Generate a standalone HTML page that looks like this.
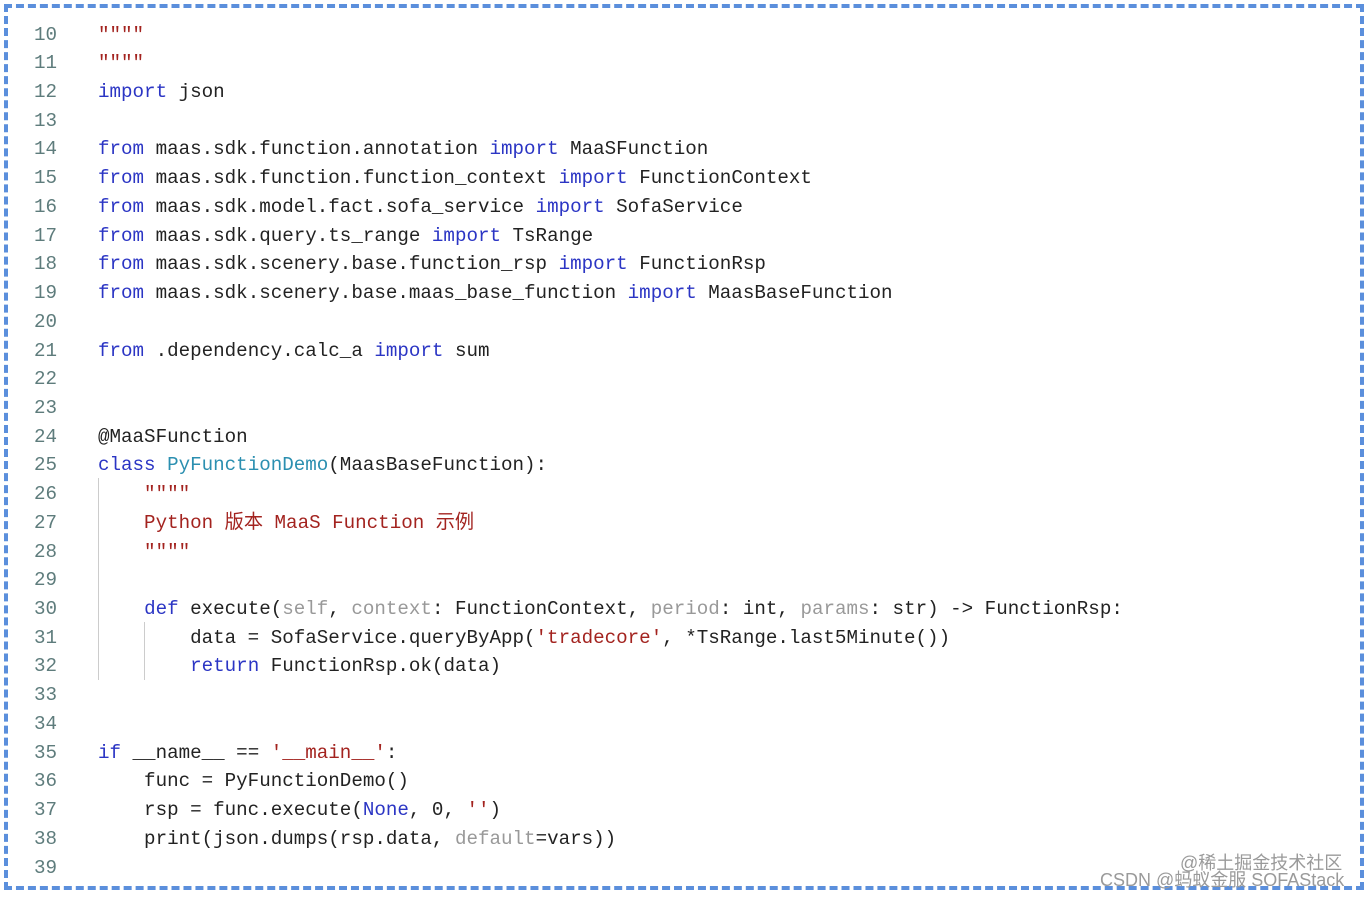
<!DOCTYPE html>
<html><head><meta charset="utf-8"><style>
html,body{margin:0;padding:0;background:#fff;width:1364px;height:896px;overflow:hidden}
.frame{position:absolute;left:4px;top:4px;width:1352px;height:878px;border:4px dashed #5b8fdc;box-sizing:content-box}
.code{position:absolute;left:0;top:20.5px;font-family:"Liberation Mono","Noto Sans CJK SC",monospace;font-size:19.2px;line-height:28.72px;color:#222;white-space:pre}
.ln{position:absolute;left:0;width:57px;text-align:right;color:#5e7c7c}
.tx{position:absolute;left:98px}
.k{color:#2b35c4}.s{color:#a3231f}.c{color:#2b8fb0}.g{color:#999}
.guide{position:absolute;width:1px;background:#ccc}
.wm{position:absolute;font-family:"Liberation Sans","Noto Sans CJK SC",sans-serif;font-size:18px;color:#9a9a9a;white-space:nowrap}
</style></head><body>
<div class="frame"></div>
<div class="guide" style="left:98px;top:478px;height:202px"></div>
<div class="guide" style="left:144px;top:622px;height:58px"></div>
<div class="code">
<div class="ln" style="top:0">10</div><div class="tx s" style="top:0">""""</div>
<div class="ln" style="top:28.72px">11</div><div class="tx s" style="top:28.72px">""""</div>
<div class="ln" style="top:57.45px">12</div><div class="tx" style="top:57.45px"><span class="k">import</span> json</div>
<div class="ln" style="top:86.17px">13</div>
<div class="ln" style="top:114.9px">14</div><div class="tx" style="top:114.9px"><span class="k">from</span> maas.sdk.function.annotation <span class="k">import</span> MaaSFunction</div>
<div class="ln" style="top:143.6px">15</div><div class="tx" style="top:143.6px"><span class="k">from</span> maas.sdk.function.function_context <span class="k">import</span> FunctionContext</div>
<div class="ln" style="top:172.3px">16</div><div class="tx" style="top:172.3px"><span class="k">from</span> maas.sdk.model.fact.sofa_service <span class="k">import</span> SofaService</div>
<div class="ln" style="top:201.1px">17</div><div class="tx" style="top:201.1px"><span class="k">from</span> maas.sdk.query.ts_range <span class="k">import</span> TsRange</div>
<div class="ln" style="top:229.8px">18</div><div class="tx" style="top:229.8px"><span class="k">from</span> maas.sdk.scenery.base.function_rsp <span class="k">import</span> FunctionRsp</div>
<div class="ln" style="top:258.5px">19</div><div class="tx" style="top:258.5px"><span class="k">from</span> maas.sdk.scenery.base.maas_base_function <span class="k">import</span> MaasBaseFunction</div>
<div class="ln" style="top:287.2px">20</div>
<div class="ln" style="top:316px">21</div><div class="tx" style="top:316px"><span class="k">from</span> .dependency.calc_a <span class="k">import</span> sum</div>
<div class="ln" style="top:344.7px">22</div>
<div class="ln" style="top:373.4px">23</div>
<div class="ln" style="top:402.1px">24</div><div class="tx" style="top:402.1px">@MaaSFunction</div>
<div class="ln" style="top:430.9px">25</div><div class="tx" style="top:430.9px"><span class="k">class</span> <span class="c">PyFunctionDemo</span>(MaasBaseFunction):</div>
<div class="ln" style="top:459.6px">26</div><div class="tx s" style="top:459.6px">    """"</div>
<div class="ln" style="top:488.3px">27</div><div class="tx s" style="top:488.3px">    Python 版本 MaaS Function 示例</div>
<div class="ln" style="top:517px">28</div><div class="tx s" style="top:517px">    """"</div>
<div class="ln" style="top:545.8px">29</div>
<div class="ln" style="top:574.5px">30</div><div class="tx" style="top:574.5px">    <span class="k">def</span> execute(<span class="g">self</span>, <span class="g">context</span>: FunctionContext, <span class="g">period</span>: int, <span class="g">params</span>: str) -&gt; FunctionRsp:</div>
<div class="ln" style="top:603.2px">31</div><div class="tx" style="top:603.2px">        data = SofaService.queryByApp(<span class="s">'tradecore'</span>, *TsRange.last5Minute())</div>
<div class="ln" style="top:631.9px">32</div><div class="tx" style="top:631.9px">        <span class="k">return</span> FunctionRsp.ok(data)</div>
<div class="ln" style="top:660.7px">33</div>
<div class="ln" style="top:689.4px">34</div>
<div class="ln" style="top:718.1px">35</div><div class="tx" style="top:718.1px"><span class="k">if</span> __name__ == <span class="s">'__main__'</span>:</div>
<div class="ln" style="top:746.8px">36</div><div class="tx" style="top:746.8px">    func = PyFunctionDemo()</div>
<div class="ln" style="top:775.6px">37</div><div class="tx" style="top:775.6px">    rsp = func.execute(<span class="k">None</span>, 0, <span class="s">''</span>)</div>
<div class="ln" style="top:804.3px">38</div><div class="tx" style="top:804.3px">    print(json.dumps(rsp.data, <span class="g">default</span>=vars))</div>
<div class="ln" style="top:833px">39</div>
</div>
<div class="wm" style="left:1180px;top:849px">@稀土掘金技术社区</div>
<div class="wm" style="left:1100px;top:866px">CSDN @蚂蚁金服 SOFAStack</div>
</body></html>
